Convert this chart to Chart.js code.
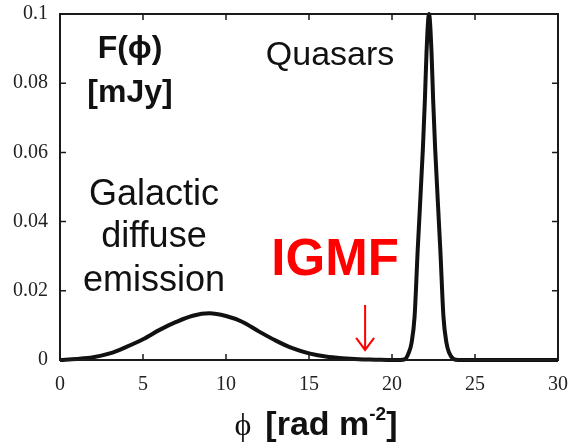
<!DOCTYPE html>
<html>
<head>
<meta charset="utf-8">
<script src="https://cdn.jsdelivr.net/npm/chart.js@4/dist/chart.umd.min.js"></script>
<style>
  html, body { margin: 0; padding: 0; background: #fff; }
  #wrap { width: 572px; height: 444px; }
</style>
</head>
<body>
<div id="wrap"><canvas id="rmsynth"></canvas></div>
<script>
// Faraday depth (rad m^-2) and flux F(phi) in mJy
var phiValues = [0, 1, 2, 3, 4, 5, 6, 7, 8, 9, 10, 11, 12, 13, 14, 15, 16, 17, 18, 19, 20, 20.5,
  20.8, 21.0, 21.18, 21.36, 21.55, 21.86, 21.98, 22.08, 22.23, 22.38, 22.48, 22.6, 22.91, 23.1, 23.28, 23.45, 23.7, 24, 25, 30];
var fluxValues = [0, 0.0003, 0.0008, 0.0019, 0.0038, 0.006, 0.0087, 0.011, 0.0128, 0.0135, 0.0127, 0.011, 0.0082, 0.0056, 0.0034, 0.0019, 0.001, 0.0005, 0.0002, 0.0001, 0, 0,
  0.0003, 0.002, 0.005, 0.0125, 0.032, 0.061, 0.075, 0.089, 0.1, 0.089, 0.075, 0.061, 0.032, 0.0125, 0.005, 0.002, 0.0003, 0, 0, 0];

var xTicks = [0, 5, 10, 15, 20, 25, 30];
var yTicks = [0, 0.02, 0.04, 0.06, 0.08, 0.1];

var points = [];
for (var i = 0; i < phiValues.length; i++) {
  points.push({ x: phiValues[i], y: fluxValues[i] });
}

// text placed in data coordinates (baseline)
var notes = [
  { text: 'F(\u03d5)', x: 4.22, y: 0.0873, font: 'bold 32px "Liberation Sans"', color: '#111' },
  { text: '[mJy]', x: 4.22, y: 0.0746, font: 'bold 32px "Liberation Sans"', color: '#111' },
  { text: 'Quasars', x: 16.27, y: 0.0853, font: '34px "Liberation Sans"', color: '#111' },
  { text: 'Galactic', x: 5.66, y: 0.0448, font: '36px "Liberation Sans"', color: '#111' },
  { text: 'diffuse', x: 5.66, y: 0.0327, font: '36px "Liberation Sans"', color: '#111' },
  { text: 'emission', x: 5.66, y: 0.0199, font: '36px "Liberation Sans"', color: '#111' },
  { text: 'IGMF', x: 16.57, y: 0.0246, font: 'bold 51px "Liberation Sans"', color: '#ff0000' }
];

var framePlugin = {
  id: 'frame',
  afterDraw: function(chart) {
    var ctx = chart.ctx, a = chart.chartArea;
    var xs = chart.scales.x, ys = chart.scales.y;
    ctx.save();
    ctx.strokeStyle = '#1a1a1a';
    ctx.lineWidth = 2;
    ctx.strokeRect(a.left, a.top, a.right - a.left, a.bottom - a.top);
    // inward ticks on all four sides
    ctx.lineWidth = 1.5;
    ctx.beginPath();
    xTicks.forEach(function(t) {
      var px = xs.getPixelForValue(t);
      ctx.moveTo(px, a.bottom); ctx.lineTo(px, a.bottom - 6);
      ctx.moveTo(px, a.top); ctx.lineTo(px, a.top + 6);
    });
    yTicks.forEach(function(t) {
      var py = ys.getPixelForValue(t);
      ctx.moveTo(a.left, py); ctx.lineTo(a.left + 6, py);
      ctx.moveTo(a.right, py); ctx.lineTo(a.right - 6, py);
    });
    ctx.stroke();

    // annotations
    ctx.textAlign = 'center';
    ctx.textBaseline = 'alphabetic';
    notes.forEach(function(n) {
      ctx.font = n.font;
      ctx.fillStyle = n.color;
      ctx.fillText(n.text, xs.getPixelForValue(n.x), ys.getPixelForValue(n.y));
    });

    // red arrow pointing at the IGMF range
    var ax = xs.getPixelForValue(18.38);
    var ay0 = ys.getPixelForValue(0.0159), ay1 = ys.getPixelForValue(0.0029);
    ctx.strokeStyle = '#ff0000';
    ctx.lineWidth = 2;
    ctx.beginPath();
    ctx.moveTo(ax, ay0); ctx.lineTo(ax, ay1);
    ctx.moveTo(ax - 9, ay1 - 12); ctx.lineTo(ax, ay1); ctx.lineTo(ax + 9, ay1 - 12);
    ctx.stroke();

    // x axis title: serif phi, bold sans rest, superscript -2
    var cx = xs.getPixelForValue(15.42), by = a.bottom + 75;
    var parts = [
      { t: '\u03d5', f: '32px "Liberation Serif"', dy: 0, gap: 14 },
      { t: '[rad m', f: 'bold 34px "Liberation Sans"', dy: 0, gap: 0 },
      { t: '-2', f: 'bold 19px "Liberation Sans"', dy: -15, gap: 0 },
      { t: ']', f: 'bold 34px "Liberation Sans"', dy: 0, gap: 0 }
    ];
    var total = 0;
    parts.forEach(function(p) { ctx.font = p.f; p.w = ctx.measureText(p.t).width; total += p.w + p.gap; });
    var px = cx - total / 2;
    ctx.fillStyle = '#111';
    ctx.textAlign = 'left';
    parts.forEach(function(p) {
      ctx.font = p.f;
      ctx.fillText(p.t, px, by + p.dy);
      px += p.w + p.gap;
    });
    ctx.restore();
  }
};

var ctx = document.getElementById('rmsynth');
var rmChart = new Chart(ctx, {
  type: 'line',
  data: {
    datasets: [{
      label: 'F(phi)',
      data: points,
      borderColor: '#111',
      borderWidth: 4,
      pointRadius: 0,
      fill: false,
      cubicInterpolationMode: 'monotone',
      clip: 4
    }]
  },
  options: {
    responsive: true,
    maintainAspectRatio: false,
    animation: false,
    layout: { padding: { top: 14, right: 14, left: 0, bottom: 0 } },
    plugins: { legend: { display: false }, tooltip: { enabled: false } },
    scales: {
      x: {
        type: 'linear',
        min: 0, max: 30,
        afterFit: function(s) {
          s.height = 84;
          s.paddingLeft = 0; s.paddingRight = 0;
        },
        afterBuildTicks: function(s) { s.ticks = xTicks.map(function(v) { return { value: v }; }); },
        grid: { display: false, drawTicks: false },
        border: { display: false },
        ticks: {
          padding: 13,
          color: '#222',
          font: { family: '"Liberation Serif"', size: 20 },
          maxRotation: 0
        }
      },
      y: {
        min: 0, max: 0.1,
        afterFit: function(s) {
          s.width = 60;
          s.paddingTop = 0; s.paddingBottom = 0;
        },
        afterBuildTicks: function(s) { s.ticks = yTicks.map(function(v) { return { value: v }; }); },
        grid: { display: false, drawTicks: false },
        border: { display: false },
        ticks: {
          padding: 12,
          color: '#222',
          font: { family: '"Liberation Serif"', size: 20 },
          callback: function(v) { return String(+v.toFixed(2)); }
        }
      }
    }
  },
  plugins: [framePlugin]
});
</script>
</body>
</html>
